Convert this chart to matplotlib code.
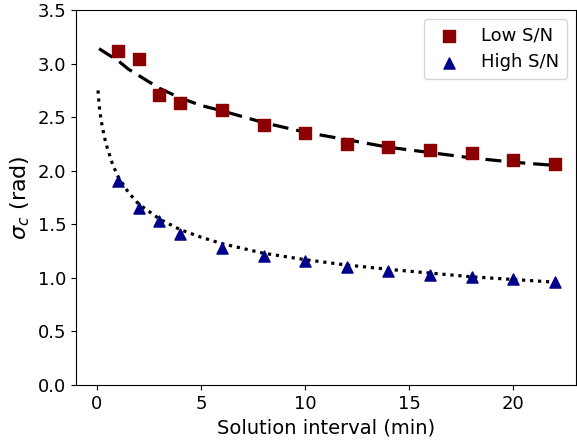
import numpy as np
import matplotlib
matplotlib.use('Agg')
import matplotlib.pyplot as plt

# measured points
interval = [1, 2, 3, 4, 6, 8, 10, 12, 14, 16, 18, 20, 22]
low_sn = [3.12, 3.04, 2.71, 2.63, 2.57, 2.43, 2.35, 2.25, 2.22, 2.19, 2.17, 2.10, 2.06]
high_sn = [1.90, 1.65, 1.53, 1.41, 1.28, 1.20, 1.16, 1.10, 1.06, 1.03, 1.01, 0.99, 0.96]

# fitted curves
fit_low_x = [0.1, 0.5, 1, 1.5, 2, 3, 4, 5, 6, 8, 10, 12, 14, 16, 18, 20, 22]
fit_low_y = [3.14, 3.09, 3.03, 2.95, 2.89, 2.77, 2.68, 2.61, 2.56, 2.45, 2.36, 2.29, 2.22,
             2.17, 2.12, 2.08, 2.05]
fit_high_x = [0.05, 0.1, 0.15, 0.2, 0.3, 0.4, 0.5, 0.75, 1, 1.5, 2, 3, 4, 5, 6, 8, 10,
              12, 14, 16, 18, 20, 22]
fit_high_y = [2.75, 2.62, 2.54, 2.47, 2.37, 2.28, 2.21, 2.06, 1.95, 1.80, 1.69, 1.55, 1.45,
              1.38, 1.32, 1.23, 1.17, 1.12, 1.08, 1.045, 1.01, 0.985, 0.96]

fig, ax = plt.subplots(figsize=(5.77, 4.40), dpi=100)
fig.subplots_adjust(left=0.132, right=0.998, top=0.977, bottom=0.125)

ax.plot(fit_low_x, fit_low_y, color='black', ls=(0, (5, 2.5)), lw=2.3, zorder=2)
ax.plot(fit_high_x, fit_high_y, color='black', ls=(0, (1, 1.5)), lw=2.3, zorder=2)
ax.scatter(interval, low_sn, marker='s', s=64, color='#8B0000', label='Low S/N', zorder=3)
ax.scatter(interval, high_sn, marker='^', s=64, color='#00008B', label='High S/N', zorder=3)

ax.set_xlim(-1, 23)
ax.set_ylim(0, 3.5)
ax.set_xticks([0, 5, 10, 15, 20])
ax.set_yticks(np.arange(0, 3.51, 0.5))
ax.tick_params(labelsize=13)
ax.set_xlabel('Solution interval (min)', fontsize=14)
ax.set_ylabel(r'$\sigma_c$ (rad)', fontsize=16)
ax.legend(fontsize=13, loc='upper right')

fig.savefig('out.png', dpi=100)
